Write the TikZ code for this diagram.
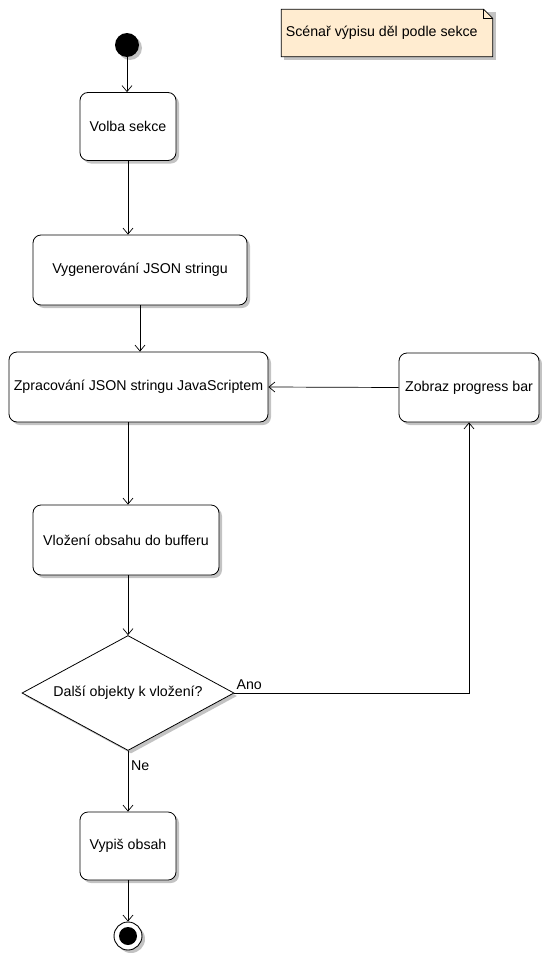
\documentclass[tikz,border=0pt]{standalone}
\usepackage{fontspec}
\setmainfont{Liberation Sans}
\usetikzlibrary{arrows.meta,shapes.geometric,shadows,calc}
\definecolor{notefill}{RGB}{255,236,208}
\definecolor{shadowgray}{RGB}{170,170,170}
\begin{document}
\begin{tikzpicture}[x=1pt,y=-1pt,
  font=\fontsize{14.2}{16}\selectfont,
  shade/.style={drop shadow={shadow xshift=3pt,shadow yshift=-3pt,fill=shadowgray,opacity=0.7}},
  action/.style={draw=black,line width=0.8pt,rounded corners=8pt,fill=white,shade,
    inner sep=0pt,align=center},
  decision/.style={draw=black,line width=0.8pt,diamond,fill=white,shade,inner sep=0pt,
    aspect=1.85},
  flow/.style={draw=black,line width=0.7pt,-{Straight Barb[length=6pt,width=10pt]}},
  lbl/.style={inner sep=1pt}]
\useasboundingbox (0,0) rectangle (541,953);

% note with folded corner
\node[inner sep=0pt,minimum width=211pt,minimum height=47pt] (note) at (387,33) {};
\fill[shadowgray,opacity=0.7] ($(note.north west)+(3,3)$) -- ($(note.north east)+(3,3)$)
  -- ($(note.south east)+(3,3)$) -- ($(note.south west)+(3,3)$) -- cycle;
\filldraw[fill=notefill,draw=black,line width=0.8pt]
  (note.north west) -- ($(note.north east)+(-9,0)$) -- ($(note.north east)+(0,9)$)
  -- (note.south east) -- (note.south west) -- cycle;
\draw[black,line width=0.6pt] ($(note.north east)+(-9,0)$) -- ($(note.north east)+(-9,9)$)
  -- ($(note.north east)+(0,9)$);
\node[anchor=west] (notetext) at ([xshift=1pt]note.west) {Scénař výpisu děl podle sekce};

% start and end
\node[circle,fill=black,minimum size=24pt,inner sep=0pt,shade] (start) at (127,45) {};
\node[circle,draw=black,line width=0.9pt,fill=white,minimum size=28pt,inner sep=0pt,shade] (stop) at (128,936) {};
\node[circle,fill=black,minimum size=18pt,inner sep=0pt] (stopdot) at (stop.center) {};

% actions
\node[action,minimum width=96pt,minimum height=68pt] (volba) at (128,126.5) {Volba sekce};
\node[action,minimum width=214pt,minimum height=70pt] (vygen) at (140,270) {Vygenerování JSON stringu};
\node[action,minimum width=259pt,minimum height=70pt] (zprac) at (138.5,387) {Zpracování JSON stringu JavaScriptem};
\node[action,minimum width=140pt,minimum height=69pt] (zobraz) at (469,387.5) {Zobraz progress bar};
\node[action,minimum width=186pt,minimum height=70pt] (vloz) at (126,540) {Vložení obsahu do bufferu};
\node[decision,minimum width=212pt,minimum height=115pt] (dec) at (128,693) {};
\node at (dec.center) (dectext) {Další objekty k vložení?};
\node[action,minimum width=96pt,minimum height=68pt] (vypis) at (128,846) {Vypiš obsah};

% connectors
\draw[flow] (start) -- (start |- volba.north);
\draw[flow] (volba.south) -- (volba.south |- vygen.north);
\draw[flow] (vygen.south) -- (vygen.south |- zprac.north);
\draw[flow] (zprac.south -| volba.south) -- (vloz.north -| volba.south);
\draw[flow] (vloz.south -| volba.south) -- (dec.north);
\draw[flow] (dec.south) -- (vypis.north);
\draw[flow] (vypis.south) -- (stop.north);
\draw[flow] (zobraz.west) -- (zprac.east);
\draw[flow] (dec.east) -- (dec.east -| zobraz.south) -- (zobraz.south);

% guard labels
\node[lbl,anchor=south west] (ano) at ([xshift=1pt,yshift=2pt]dec.east) {Ano};
\node[lbl,anchor=north west] (ne) at ([xshift=2pt,yshift=-9pt]dec.south) {Ne};
\end{tikzpicture}
\end{document}
